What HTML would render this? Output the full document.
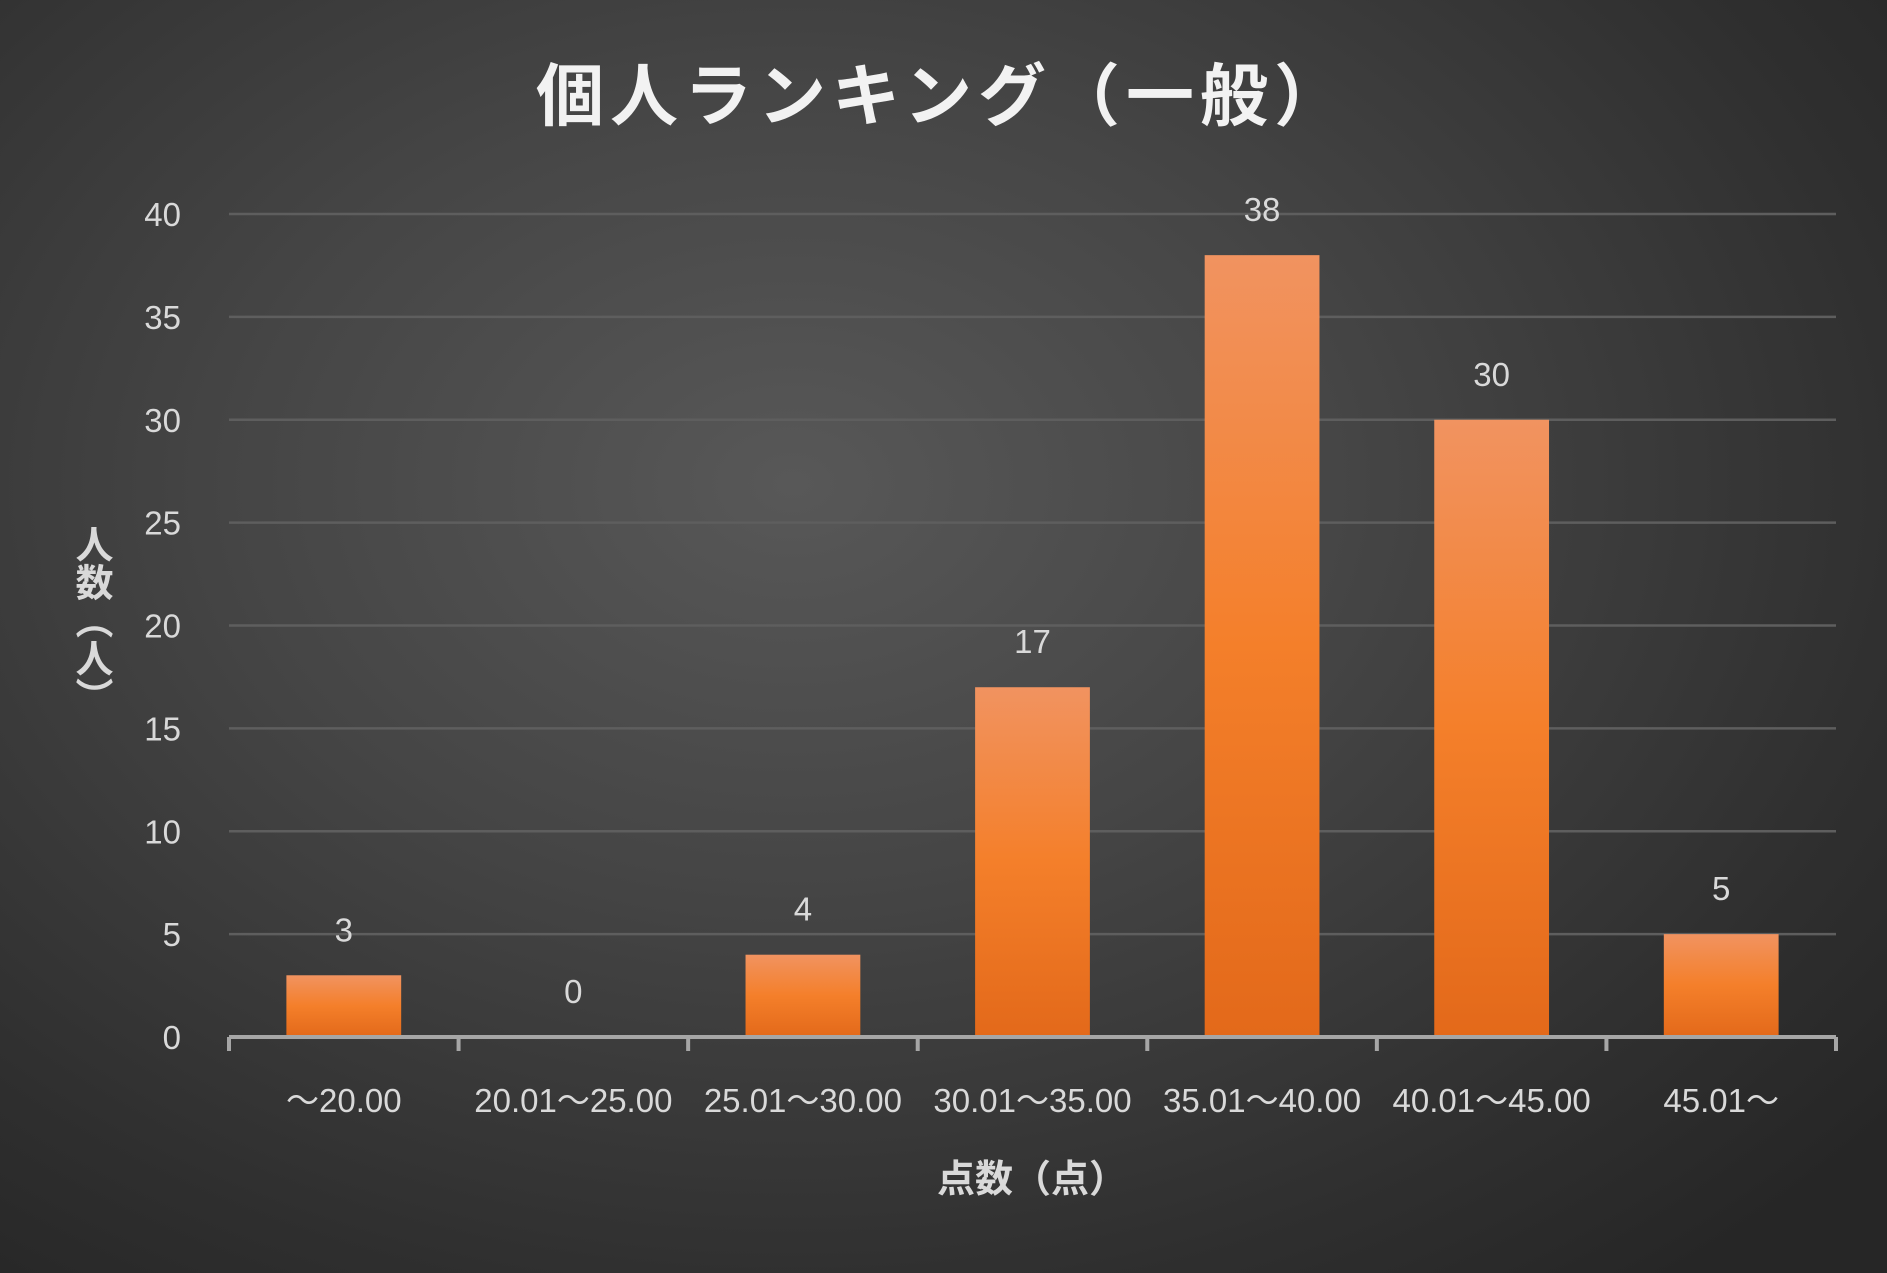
<!DOCTYPE html>
<html><head><meta charset="utf-8"><style>
html,body{margin:0;padding:0;}
body{width:1887px;height:1273px;overflow:hidden;background:radial-gradient(ellipse 75% 80% at 42% 38%,#585858 0%,#454545 40%,#2f2f2f 80%,#262626 100%);font-family:"Liberation Sans","Noto Sans CJK JP",sans-serif;}
svg{position:absolute;left:0;top:0;}
</style></head><body>
<svg width="1887" height="1273">
<defs>
<linearGradient id="bg" x1="0" y1="0" x2="0" y2="1">
<stop offset="0" stop-color="#f19360"/><stop offset="0.5" stop-color="#f47f2a"/><stop offset="1" stop-color="#e3691a"/>
</linearGradient>
</defs>
<text x="942" y="120" text-anchor="middle" font-size="68" font-weight="bold" fill="#f2f2f2" letter-spacing="6" font-family="'Liberation Sans','Noto Sans CJK JP',sans-serif">個人ランキング（一般）</text>
<g id="grid"></g>
<g id="bars"></g>
<g id="labels"></g>
<text x="1032" y="1192" text-anchor="middle" font-size="38" font-weight="bold" fill="#d9d9d9" font-family="'Liberation Sans','Noto Sans CJK JP',sans-serif">点数（点）</text>
<text x="90" y="525" font-size="38" font-weight="bold" fill="#d9d9d9" style="writing-mode:vertical-rl" font-family="'Liberation Sans','Noto Sans CJK JP',sans-serif">人数（人）</text>
</svg>
<script>
const categories=["～20.00","20.01～25.00","25.01～30.00","30.01～35.00","35.01～40.00","40.01～45.00","45.01～"];
const values=[3,0,4,17,38,30,5];
const yTicks=[0,5,10,15,20,25,30,35,40];
const NS="http://www.w3.org/2000/svg";
const L=229,R=1836,T=214,B=1037,YMAX=40;
const y=v=>B-(v/YMAX)*(B-T);
const bw=(R-L)/categories.length;
const x=i=>L+bw*i;
function mk(tag,attrs,parent){const e=document.createElementNS(NS,tag);for(const k in attrs)e.setAttribute(k,attrs[k]);document.getElementById(parent).appendChild(e);return e;}
yTicks.forEach(t=>{
  if(t>0){const g=mk('line',{x1:L,x2:R,y1:y(t),y2:y(t),stroke:'#5e5e5e','stroke-width':2.5},'grid');
  
  }
  const lb=mk('text',{x:181,y:y(t)+12,'text-anchor':'end','font-size':33,fill:'#d9d9d9'},'labels');
  lb.textContent=t;
  
  
});
values.forEach((v,i)=>{
  const w=bw*0.5,bx=x(i)+bw*0.25;
  if(v>0){const r=mk('rect',{x:bx,y:y(v),width:w,height:B-y(v),fill:'url(#bg)'},'bars');
  
  }
  const t=mk('text',{x:x(i)+bw/2,y:y(v)-34,'text-anchor':'middle','font-size':33,fill:'#d9d9d9'},'labels');
  t.textContent=v;
  
  
  const c=mk('text',{x:x(i)+bw/2,y:1112,'text-anchor':'middle','font-size':33,fill:'#d9d9d9'},'labels');
  c.textContent=categories[i];
  
  
});
const ax=mk('line',{x1:L,x2:R,y1:B,y2:B,stroke:'#a6a6a6','stroke-width':4},'labels');


for(let i=0;i<=categories.length;i++){
  const tk=mk('line',{x1:x(i),x2:x(i),y1:B,y2:B+14,stroke:'#a6a6a6','stroke-width':4},'labels');
  
  
}
</script>
</body></html>
